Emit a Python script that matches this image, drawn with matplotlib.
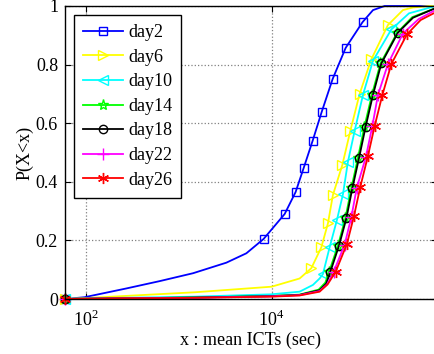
import numpy as np
import matplotlib
matplotlib.use('Agg')
import matplotlib.pyplot as plt

plt.rcParams['font.family'] = 'Liberation Serif'
plt.rcParams['mathtext.fontset'] = 'custom'
plt.rcParams['mathtext.rm'] = 'Liberation Serif'
plt.rcParams['font.size'] = 13

# curves (x in seconds, P = cdf)
day2_x = [60, 97, 274, 625, 1430, 3260, 5350, 8200, 13800, 18100, 22100, 27600,
          34500, 45300, 62500, 95000, 123000, 164000, 600000]
day2_p = [0, 0.006, 0.036, 0.061, 0.088, 0.124, 0.156, 0.205, 0.29, 0.365, 0.447,
          0.54, 0.638, 0.751, 0.857, 0.945, 0.986, 1.0, 1.0]
day2_mk = [0, 7, 8, 9, 10, 11, 12, 13, 14, 15]

day6_x = [60, 97, 1500, 10000, 20000, 26700, 34200, 40300, 45600, 57500, 70200,
          88300, 118000, 178000, 258000, 331000, 500000, 600000]
day6_p = [0, 0.003, 0.023, 0.042, 0.07, 0.105, 0.176, 0.258, 0.355, 0.457, 0.574,
          0.70, 0.818, 0.935, 0.986, 0.995, 1.0, 1.0]
day6_mk = [0, 5, 6, 7, 8, 9, 10, 11, 12, 13]

day10_x = [60, 97, 1500, 9900, 20000, 27800, 32800, 35600, 42000, 50400, 58500,
           66200, 78100, 95900, 122800, 193800, 300000, 552000, 600000]
day10_p = [0, 0.002, 0.008, 0.016, 0.025, 0.048, 0.07, 0.085, 0.176, 0.27, 0.358,
           0.469, 0.574, 0.696, 0.813, 0.92, 0.975, 0.998, 1.0]
day10_mk = [0, 7, 8, 9, 10, 11, 12, 13, 14, 15]

day14_x = [60, 97, 1500, 10000, 20000, 32000, 37800, 41500, 51500, 62000, 72000,
           84500, 99500, 119500, 148000, 224000, 325000, 552000, 600000]
day14_p = [0, 0.001, 0.005, 0.01, 0.015, 0.032, 0.056, 0.093, 0.181, 0.275, 0.378,
           0.48, 0.588, 0.696, 0.804, 0.909, 0.962, 0.99, 0.992]
day14_mk = [0, 7, 8, 9, 10, 11, 12, 13, 14, 15]

day18_x = [60, 97, 1500, 10000, 20000, 32800, 38700, 42800, 52900, 63600, 73800,
           86900, 102500, 122800, 151300, 228000, 331000, 552000, 600000]
day18_p = [0, 0.001, 0.005, 0.01, 0.014, 0.03, 0.053, 0.093, 0.181, 0.275, 0.378,
           0.48, 0.588, 0.696, 0.804, 0.909, 0.96, 0.99, 0.992]
day18_mk = [0, 7, 8, 9, 10, 11, 12, 13, 14, 15]

day22_x = [60, 97, 1500, 10000, 20000, 32800, 39500, 46500, 61000, 72000, 82400,
           103000, 121000, 139000, 178000, 258000, 380000, 552000, 600000]
day22_p = [0, 0.001, 0.004, 0.009, 0.013, 0.027, 0.05, 0.093, 0.186, 0.28, 0.38,
           0.484, 0.59, 0.696, 0.802, 0.906, 0.955, 0.983, 0.986]
day22_mk = [0, 7, 8, 9, 10, 11, 12, 13, 14, 15]

day26_x = [60, 97, 1500, 10000, 20000, 32800, 40000, 48800, 64500, 76800, 89900,
           108500, 128100, 155000, 193800, 285000, 400000, 552000, 600000]
day26_p = [0, 0.001, 0.004, 0.008, 0.012, 0.025, 0.05, 0.093, 0.188, 0.283, 0.383,
           0.488, 0.59, 0.696, 0.802, 0.903, 0.952, 0.975, 0.978]
day26_mk = [0, 7, 8, 9, 10, 11, 12, 13, 14, 15]

labels = ['day2', 'day6', 'day10', 'day14', 'day18', 'day22', 'day26']
colors = ['#0000ff', '#ffff00', '#00ffff', '#00ff00', '#000000', '#ff00ff', '#ff0000']
markers = ['s', '>', '<', '*', 'o', '+', (6, 2, 0)]
msizes = [5.5, 7, 7, 8, 6, 8, 8]

series = [(day2_x, day2_p, day2_mk), (day6_x, day6_p, day6_mk),
          (day10_x, day10_p, day10_mk), (day14_x, day14_p, day14_mk),
          (day18_x, day18_p, day18_mk), (day22_x, day22_p, day22_mk),
          (day26_x, day26_p, day26_mk)]

fig = plt.figure(figsize=(4.34, 3.54), dpi=100)
ax = fig.add_axes([65 / 434, 55 / 354, 372 / 434, 293 / 354])

for (x, p, mk), lab, c, m, ms in zip(series, labels, colors, markers, msizes):
    ax.plot(x, p, color=c, lw=1.3, marker=m, markevery=mk, ms=ms,
            mfc='none', mec=c, mew=1.0, label=lab, clip_on=False)

ax.set_xscale('log')
ax.set_xlim(60, 6e5)
ax.set_ylim(0, 1)
ax.set_xticks([1e2, 1e4])
ax.set_xticklabels(['$10^{2}$', '$10^{4}$'])
ax.xaxis.set_minor_locator(matplotlib.ticker.NullLocator())
ax.set_yticks([0, 0.2, 0.4, 0.6, 0.8, 1])
ax.set_yticklabels(['0', '0.2', '0.4', '0.6', '0.8', '1'])
ax.tick_params(direction='in', top=True, right=True, length=4, width=0.8, pad=5)
ax.tick_params(axis='x', pad=8)
ax.grid(True, ls=':', color='#808080', lw=0.9)
for s in ax.spines.values():
    s.set_linewidth(1.0)

ax.set_xlabel('x : mean ICTs (sec)', labelpad=1)
ax.set_ylabel('P(X<x)', labelpad=2)

leg = ax.legend(loc='upper left', bbox_to_anchor=(0.024, 0.969), borderaxespad=0,
                fancybox=False, framealpha=1, edgecolor='k', handlelength=2.2,
                handletextpad=0.3, borderpad=0.5, labelspacing=0.42)
leg.get_frame().set_linewidth(1.0)

fig.savefig('out.png', dpi=100)
